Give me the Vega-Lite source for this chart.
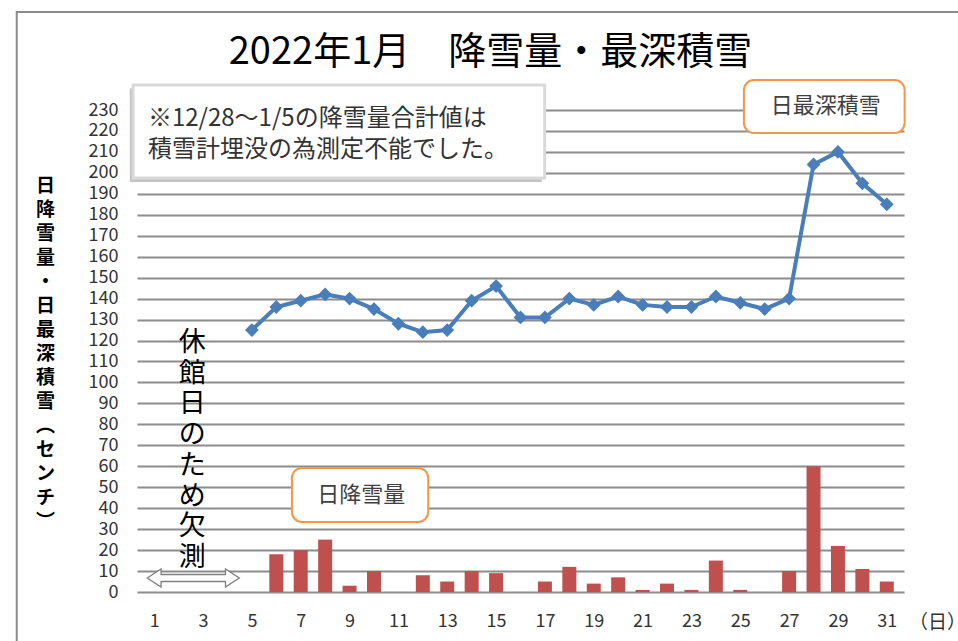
{
  "$schema": "https://vega.github.io/schema/vega-lite/v6.json",
  "width": 767,
  "height": 482,
  "autosize": "none",
  "padding": {"left": 137, "top": 110, "right": 54, "bottom": 49},
  "background": "white",
  "config": {
    "view": {"stroke": null},
    "font": "Noto Sans CJK JP",
    "axisX": {
      "grid": false,
      "ticks": false,
      "domain": false,
      "labelFontSize": 18,
      "labelColor": "#333333",
      "labelPadding": 20,
      "labelOverlap": false,
      "labelFont": "Noto Sans CJK JP",
      "titleFont": "Noto Sans CJK JP",
      "titleFontSize": 19,
      "titleFontWeight": "normal",
      "titleColor": "#333333",
      "titleAngle": 0,
      "titleAlign": "center",
      "titleBaseline": "middle",
      "titleX": 800,
      "titleY": 30
    },
    "axisY": {
      "grid": true,
      "gridColor": "#8c8c8c",
      "gridWidth": 2,
      "ticks": false,
      "domain": false,
      "labelFontSize": 18,
      "labelColor": "#333333",
      "labelPadding": 19,
      "labelOverlap": false,
      "labelFont": "Noto Sans CJK JP",
      "titleFont": "Noto Sans CJK JP",
      "titleFontSize": 19,
      "titleFontWeight": "bold",
      "titleColor": "#000000",
      "titleLineHeight": 24,
      "titleAngle": 0,
      "titleAlign": "center",
      "titleBaseline": "top",
      "titleX": -92,
      "titleY": 66
    }
  },
  "title": {
    "text": "2022年1月　降雪量・最深積雪",
    "font": "Noto Sans CJK JP",
    "fontSize": 38,
    "fontWeight": "normal",
    "color": "#000000",
    "anchor": "middle",
    "frame": "group",
    "baseline": "middle",
    "dx": -30,
    "offset": -80
  },
  "resolve": {"axis": {"x": "independent", "y": "independent"}},
  "data": {
    "values": [
      {"day": 5, "snowfall": null, "depth": 125},
      {"day": 6, "snowfall": 18, "depth": 136},
      {"day": 7, "snowfall": 20, "depth": 139},
      {"day": 8, "snowfall": 25, "depth": 142},
      {"day": 9, "snowfall": 3, "depth": 140},
      {"day": 10, "snowfall": 10, "depth": 135},
      {"day": 11, "snowfall": 0, "depth": 128},
      {"day": 12, "snowfall": 8, "depth": 124},
      {"day": 13, "snowfall": 5, "depth": 125},
      {"day": 14, "snowfall": 10, "depth": 139},
      {"day": 15, "snowfall": 9, "depth": 146},
      {"day": 16, "snowfall": 0, "depth": 131},
      {"day": 17, "snowfall": 5, "depth": 131},
      {"day": 18, "snowfall": 12, "depth": 140},
      {"day": 19, "snowfall": 4, "depth": 137},
      {"day": 20, "snowfall": 7, "depth": 141},
      {"day": 21, "snowfall": 1, "depth": 137},
      {"day": 22, "snowfall": 4, "depth": 136},
      {"day": 23, "snowfall": 1, "depth": 136},
      {"day": 24, "snowfall": 15, "depth": 141},
      {"day": 25, "snowfall": 1, "depth": 138},
      {"day": 26, "snowfall": 0, "depth": 135},
      {"day": 27, "snowfall": 10, "depth": 140},
      {"day": 28, "snowfall": 60, "depth": 204},
      {"day": 29, "snowfall": 22, "depth": 210},
      {"day": 30, "snowfall": 11, "depth": 195},
      {"day": 31, "snowfall": 5, "depth": 185}
    ]
  },
  "layer": [
    {
      "mark": {"type": "bar", "color": "#C0504D", "width": 14},
      "encoding": {
        "x": {
          "field": "day",
          "type": "quantitative",
          "scale": {"domain": [0.5, 31.5], "nice": false, "zero": false},
          "axis": {
            "values": [1, 3, 5, 7, 9, 11, 13, 15, 17, 19, 21, 23, 25, 27, 29, 31],
            "title": "（日）"
          }
        },
        "y": {
          "field": "snowfall",
          "type": "quantitative",
          "scale": {"domain": [0, 230], "nice": false},
          "axis": {
            "values": [0, 10, 20, 30, 40, 50, 60, 70, 80, 90, 100, 110, 120, 130, 140, 150, 160, 170, 180, 190, 200, 210, 220, 230],
            "labelOverlap": false,
            "title": ["日", "降", "雪", "量", "・", "日", "最", "深", "積", "雪", "︵", "セ", "ン", "チ", "︶"]
          }
        }
      }
    },
    {
      "mark": {
        "type": "line",
        "color": "#4A7EBB",
        "strokeWidth": 4,
        "point": {"shape": "diamond", "size": 190, "filled": true, "color": "#4A7EBB"}
      },
      "encoding": {
        "x": {"field": "day", "type": "quantitative", "axis": null},
        "y": {"field": "depth", "type": "quantitative", "axis": null}
      }
    },
    {
      "data": {"values": [{}]},
      "mark": {"type": "rect", "fill": null, "fillOpacity": 0, "stroke": "#8c8c8c", "strokeWidth": 2, "clip": false},
      "encoding": {
        "x": {"datum": -4.63, "type": "quantitative", "axis": null},
        "x2": {"datum": 34.5},
        "y": {"datum": -30, "type": "quantitative", "axis": null},
        "y2": {"datum": 276.8}
      }
    },
    {
      "data": {"values": [{}]},
      "mark": {"type": "rect", "fill": "#c4c4c4", "stroke": null, "clip": false},
      "encoding": {
        "x": {"datum": 0.0, "type": "quantitative", "axis": null},
        "x2": {"datum": 16.87},
        "y": {"datum": 240.4, "type": "quantitative", "axis": null},
        "y2": {"datum": 195.6}
      }
    },
    {
      "data": {"values": [{}]},
      "mark": {"type": "rect", "fill": "white", "stroke": "#d9d9d9", "strokeWidth": 3, "clip": false},
      "encoding": {
        "x": {"datum": 0.136, "type": "quantitative", "axis": null},
        "x2": {"datum": 16.99},
        "y": {"datum": 241.9, "type": "quantitative", "axis": null},
        "y2": {"datum": 197.5}
      }
    },
    {
      "data": {"values": [{}]},
      "mark": {"type": "text", "align": "left", "baseline": "middle", "fontSize": 24, "letterSpacing": 1.2, "color": "#333333", "lineBreak": "\n", "lineHeight": 31},
      "encoding": {
        "x": {"datum": 0.742, "type": "quantitative", "axis": null},
        "y": {"datum": 225.5, "type": "quantitative", "axis": null},
        "text": {"value": "※12/28～1/5の降雪量合計値は\n積雪計埋没の為測定不能でした。"}
      }
    },
    {
      "data": {"values": [{}]},
      "mark": {"type": "rect", "fill": "white", "stroke": "#F79646", "strokeWidth": 2, "cornerRadius": 10, "clip": false},
      "encoding": {
        "x": {"datum": 25.15, "type": "quantitative", "axis": null},
        "x2": {"datum": 31.73},
        "y": {"datum": 244.3, "type": "quantitative", "axis": null},
        "y2": {"datum": 219.0}
      }
    },
    {
      "data": {"values": [{}]},
      "mark": {"type": "text", "align": "center", "baseline": "middle", "fontSize": 22, "letterSpacing": 2.5, "color": "#404040"},
      "encoding": {
        "x": {"datum": 28.5, "type": "quantitative", "axis": null},
        "y": {"datum": 231.7, "type": "quantitative", "axis": null},
        "text": {"value": "日最深積雪"}
      }
    },
    {
      "data": {"values": [{}]},
      "mark": {"type": "rect", "fill": "white", "stroke": "#F79646", "strokeWidth": 2, "cornerRadius": 10, "clip": false},
      "encoding": {
        "x": {"datum": 6.64, "type": "quantitative", "axis": null},
        "x2": {"datum": 12.22},
        "y": {"datum": 59.2, "type": "quantitative", "axis": null},
        "y2": {"datum": 33.4}
      }
    },
    {
      "data": {"values": [{}]},
      "mark": {"type": "text", "align": "center", "baseline": "middle", "fontSize": 22, "letterSpacing": 2.5, "color": "#404040"},
      "encoding": {
        "x": {"datum": 9.48, "type": "quantitative", "axis": null},
        "y": {"datum": 46.3, "type": "quantitative", "axis": null},
        "text": {"value": "日降雪量"}
      }
    },
    {
      "data": {"values": [{}]},
      "mark": {"type": "text", "align": "center", "baseline": "middle", "fontSize": 27, "color": "#000000", "lineBreak": "\n", "lineHeight": 30.7},
      "encoding": {
        "x": {"datum": 2.56, "type": "quantitative", "axis": null},
        "y": {"datum": 118.8, "type": "quantitative", "axis": null},
        "text": {"value": "休\n館\n日\nの\nた\nめ\n欠\n測"}
      }
    },
    {
      "data": {"values": [{}]},
      "mark": {
        "type": "point",
        "shape": "M-1,0 L-0.7,-0.196 L-0.7,-0.076 L0.7,-0.076 L0.7,-0.196 L1,0 L0.7,0.196 L0.7,0.076 L-0.7,0.076 L-0.7,0.196 Z",
        "size": 8464,
        "filled": true,
        "fill": "white",
        "stroke": "#7f7f7f",
        "strokeWidth": 1.3,
        "opacity": 1
      },
      "encoding": {
        "x": {"datum": 2.6, "type": "quantitative", "axis": null},
        "y": {"datum": 6.68, "type": "quantitative", "axis": null}
      }
    }
  ]
}
